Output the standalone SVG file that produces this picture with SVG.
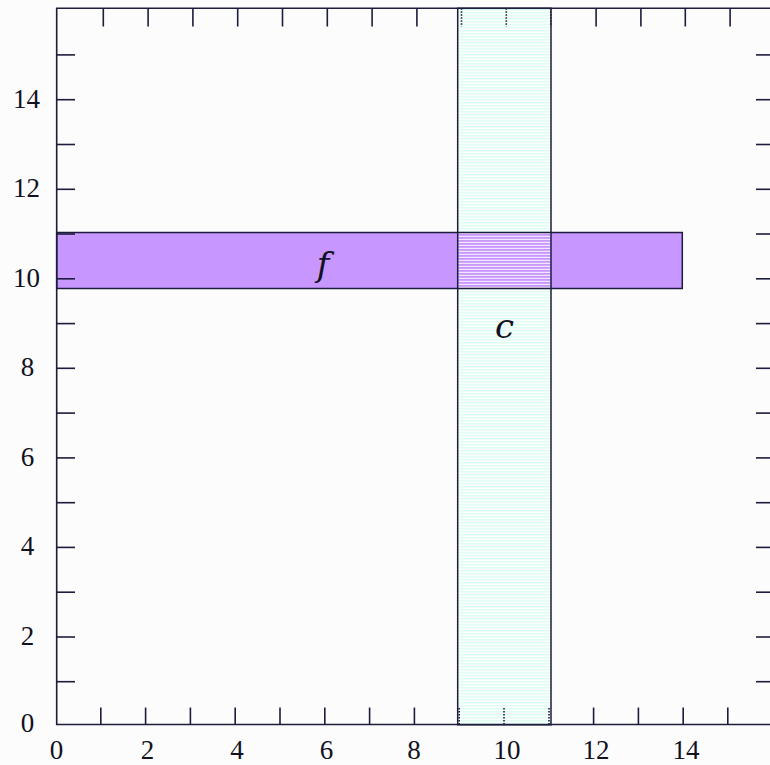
<svg xmlns="http://www.w3.org/2000/svg" width="770" height="765" viewBox="0 0 770 765">
<defs>
<pattern id="cstripe" patternUnits="userSpaceOnUse" x="0" y="0" width="10" height="3">
<rect x="0" y="0" width="10" height="1.5" fill="#dcfff2"/>
</pattern>
<pattern id="ostripe" patternUnits="userSpaceOnUse" x="0" y="0" width="10" height="3">
<rect x="0" y="0" width="10" height="3" fill="#c896ff"/>
<rect x="0" y="1.8" width="10" height="1.2" fill="#f1e6ff"/>
</pattern>
</defs>
<style>
.ax{stroke:#1c1c3c;stroke-width:1.6;fill:none}
.tk{stroke:#1c1c3c;stroke-width:1.6}
.dt{stroke:#1c1c3c;stroke-width:1.6;stroke-dasharray:1.5,1.5}
.lb{font-family:"Liberation Serif","Times New Roman",serif;font-size:27px;fill:#111122;text-anchor:middle}
.it{font-family:"DejaVu Serif","Liberation Serif",serif;font-size:34px;font-style:italic;fill:#111122;text-anchor:middle}
.bx{stroke:#1c1c3c;stroke-width:1.5}
</style>
<rect x="0" y="0" width="770" height="765" fill="#fcfcfc"/>
<g id="f">
<rect class="bx" x="56.7" y="232.5" width="625.6" height="56" fill="#c896ff"/>
</g>
<g id="c">
<rect x="457.7" y="8.3" width="93.3" height="716.5" fill="#fcfcfc"/>
<rect x="457.7" y="8.3" width="93.3" height="716.5" fill="url(#cstripe)"/>
<rect x="457.7" y="232.5" width="93.3" height="56" fill="url(#ostripe)"/>
<line class="bx" x1="457.7" y1="232.5" x2="551" y2="232.5"/>
<line class="bx" x1="457.7" y1="288.5" x2="551" y2="288.5"/>
<rect class="bx" x="457.7" y="8.3" width="93.3" height="716.5" fill="none"/>
</g>
<g id="axes">
<polyline class="ax" points="780,8.3 56.7,8.3 56.7,724.5 780,724.5"/>
<line class="ax" x1="773" y1="8.3" x2="773" y2="724.5"/>
<line class="tk" x1="103.3" y1="8.3" x2="103.3" y2="26.5"/>
<line class="tk" x1="148.1" y1="8.3" x2="148.1" y2="26.5"/>
<line class="tk" x1="192.9" y1="8.3" x2="192.9" y2="26.5"/>
<line class="tk" x1="237.7" y1="8.3" x2="237.7" y2="26.5"/>
<line class="tk" x1="282.5" y1="8.3" x2="282.5" y2="26.5"/>
<line class="tk" x1="327.3" y1="8.3" x2="327.3" y2="26.5"/>
<line class="tk" x1="372.1" y1="8.3" x2="372.1" y2="26.5"/>
<line class="tk" x1="416.9" y1="8.3" x2="416.9" y2="26.5"/>
<line class="dt" x1="461.5" y1="8.3" x2="461.5" y2="26.5"/>
<line class="dt" x1="506.3" y1="8.3" x2="506.3" y2="26.5"/>
<line class="dt" x1="550.8" y1="8.3" x2="550.8" y2="26.5"/>
<line class="tk" x1="596.1" y1="8.3" x2="596.1" y2="26.5"/>
<line class="tk" x1="640.9" y1="8.3" x2="640.9" y2="26.5"/>
<line class="tk" x1="685.3" y1="8.3" x2="685.3" y2="26.5"/>
<line class="tk" x1="730.1" y1="8.3" x2="730.1" y2="26.5"/>
<line class="tk" x1="100.8" y1="724.5" x2="100.8" y2="707.5"/>
<line class="tk" x1="145.6" y1="724.5" x2="145.6" y2="707.5"/>
<line class="tk" x1="190.4" y1="724.5" x2="190.4" y2="707.5"/>
<line class="tk" x1="235.2" y1="724.5" x2="235.2" y2="707.5"/>
<line class="tk" x1="280" y1="724.5" x2="280" y2="707.5"/>
<line class="tk" x1="324.8" y1="724.5" x2="324.8" y2="707.5"/>
<line class="tk" x1="369.6" y1="724.5" x2="369.6" y2="707.5"/>
<line class="tk" x1="414.4" y1="724.5" x2="414.4" y2="707.5"/>
<line class="dt" x1="459.2" y1="724.5" x2="459.2" y2="707.5"/>
<line class="dt" x1="504" y1="724.5" x2="504" y2="707.5"/>
<line class="dt" x1="549" y1="724.5" x2="549" y2="707.5"/>
<line class="tk" x1="593.6" y1="724.5" x2="593.6" y2="707.5"/>
<line class="tk" x1="638.4" y1="724.5" x2="638.4" y2="707.5"/>
<line class="tk" x1="683.2" y1="724.5" x2="683.2" y2="707.5"/>
<line class="tk" x1="727.8" y1="724.5" x2="727.8" y2="707.5"/>
<line class="tk" x1="56.7" y1="681.7" x2="75" y2="681.7"/>
<line class="tk" x1="56.7" y1="637" x2="75" y2="637"/>
<line class="tk" x1="56.7" y1="592.2" x2="75" y2="592.2"/>
<line class="tk" x1="56.7" y1="547.4" x2="75" y2="547.4"/>
<line class="tk" x1="56.7" y1="502.7" x2="75" y2="502.7"/>
<line class="tk" x1="56.7" y1="457.9" x2="75" y2="457.9"/>
<line class="tk" x1="56.7" y1="413.1" x2="75" y2="413.1"/>
<line class="tk" x1="56.7" y1="368.3" x2="75" y2="368.3"/>
<line class="tk" x1="56.7" y1="323.6" x2="75" y2="323.6"/>
<line class="tk" x1="56.7" y1="278.8" x2="75" y2="278.8"/>
<line class="tk" x1="56.7" y1="234" x2="75" y2="234"/>
<line class="tk" x1="56.7" y1="189.3" x2="75" y2="189.3"/>
<line class="tk" x1="56.7" y1="144.5" x2="75" y2="144.5"/>
<line class="tk" x1="56.7" y1="99.7" x2="75" y2="99.7"/>
<line class="tk" x1="56.7" y1="54.9" x2="75" y2="54.9"/>
<line class="tk" x1="756" y1="681.7" x2="773" y2="681.7"/>
<line class="tk" x1="756" y1="637" x2="773" y2="637"/>
<line class="tk" x1="756" y1="592.2" x2="773" y2="592.2"/>
<line class="tk" x1="756" y1="547.4" x2="773" y2="547.4"/>
<line class="tk" x1="756" y1="502.7" x2="773" y2="502.7"/>
<line class="tk" x1="756" y1="457.9" x2="773" y2="457.9"/>
<line class="tk" x1="756" y1="413.1" x2="773" y2="413.1"/>
<line class="tk" x1="756" y1="368.3" x2="773" y2="368.3"/>
<line class="tk" x1="756" y1="323.6" x2="773" y2="323.6"/>
<line class="tk" x1="756" y1="278.8" x2="773" y2="278.8"/>
<line class="tk" x1="756" y1="234" x2="773" y2="234"/>
<line class="tk" x1="756" y1="189.3" x2="773" y2="189.3"/>
<line class="tk" x1="756" y1="144.5" x2="773" y2="144.5"/>
<line class="tk" x1="756" y1="99.7" x2="773" y2="99.7"/>
<line class="tk" x1="756" y1="54.9" x2="773" y2="54.9"/>
</g>
<g id="labels">
<text class="lb" x="56.5" y="759">0</text>
<text class="lb" x="147.5" y="759">2</text>
<text class="lb" x="237" y="759">4</text>
<text class="lb" x="326.5" y="759">6</text>
<text class="lb" x="414" y="759">8</text>
<text class="lb" x="507" y="759">10</text>
<text class="lb" x="596" y="759">12</text>
<text class="lb" x="686" y="759">14</text>
<text class="lb" x="27.5" y="732">0</text>
<text class="lb" x="27.5" y="645">2</text>
<text class="lb" x="27.5" y="555.4">4</text>
<text class="lb" x="27.5" y="465.9">6</text>
<text class="lb" x="27.5" y="376.3">8</text>
<text class="lb" x="26.5" y="286.8">10</text>
<text class="lb" x="26.5" y="197.3">12</text>
<text class="lb" x="26.5" y="107.7">14</text>
<text class="it" x="323" y="276">f</text>
<text class="it" x="504.5" y="338">c</text>
</g>
</svg>
